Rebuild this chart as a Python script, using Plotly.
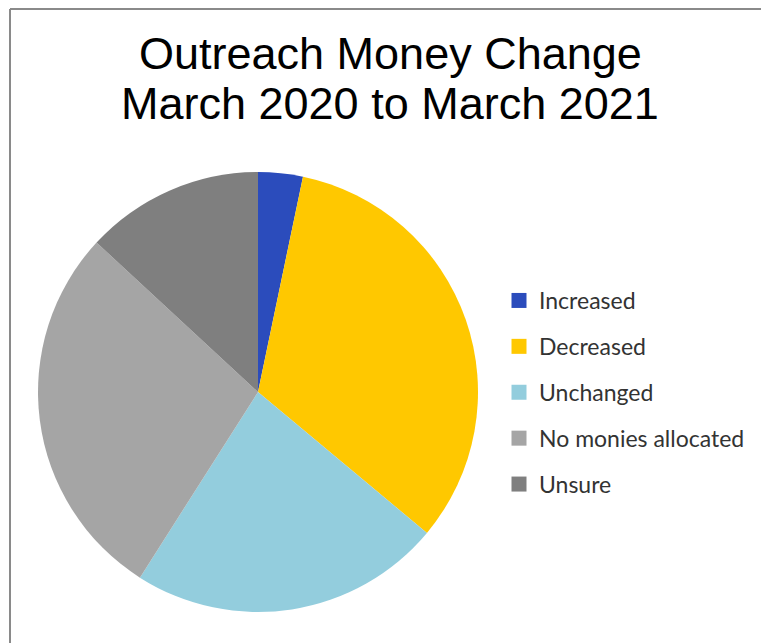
import plotly.graph_objects as go

# Survey responses: change in outreach money, March 2020 -> March 2021
categories = ["Increased", "Decreased", "Unchanged", "No monies allocated", "Unsure"]
counts = [2, 20, 14, 17, 8]
colors = ["#2B4CBC", "#FFC800", "#93CDDD", "#A5A5A5", "#7F7F7F"]

W, H = 761, 643

fig = go.Figure()

fig.add_trace(go.Pie(
    labels=categories,
    values=counts,
    sort=False,
    direction="clockwise",
    rotation=0,
    textinfo="none",
    hoverinfo="label+value+percent",
    marker=dict(colors=colors, line=dict(width=0)),
    showlegend=False,
    domain=dict(x=[38 / W, 478 / W], y=[1 - 612 / H, 1 - 172 / H]),
))

# Legend entries, one group per category so the vertical spacing can be set
for name, col in zip(categories, colors):
    fig.add_trace(go.Scatter(
        x=[None], y=[None], mode="markers", name=name,
        legendgroup=name,
        marker=dict(symbol="square", size=15, color=col),
        hoverinfo="skip",
    ))

title_font = dict(family="Liberation Sans, Arial", size=45, color="#000000")
fig.add_annotation(text="Outreach Money Change", x=390 / W, y=1 - 53 / H,
                   xref="paper", yref="paper", showarrow=False,
                   xanchor="center", yanchor="middle", font=title_font)
fig.add_annotation(text="March 2020 to March 2021", x=390 / W, y=1 - 103 / H,
                   xref="paper", yref="paper", showarrow=False,
                   xanchor="center", yanchor="middle", font=title_font)

# Chart frame (top and left edges visible)
frame = dict(color="#8A8A8A", width=2)
fig.add_shape(type="line", xref="paper", yref="paper",
              x0=10 / W, x1=1.0, y0=1 - 9 / H, y1=1 - 9 / H, line=frame)
fig.add_shape(type="line", xref="paper", yref="paper",
              x0=10 / W, x1=10 / W, y0=1 - 9 / H, y1=0, line=frame)

fig.update_layout(
    width=W, height=H,
    margin=dict(l=0, r=0, t=0, b=0),
    paper_bgcolor="white", plot_bgcolor="white",
    xaxis=dict(visible=False), yaxis=dict(visible=False),
    legend=dict(
        x=499 / W, y=1 - 279 / H, xanchor="left", yanchor="top",
        font=dict(family="Lato, Carlito, Calibri", size=23, color="#333333"),
        tracegroupgap=13, itemsizing="trace",
        bgcolor="rgba(0,0,0,0)",
    ),
)

fig.write_html("out.html")
